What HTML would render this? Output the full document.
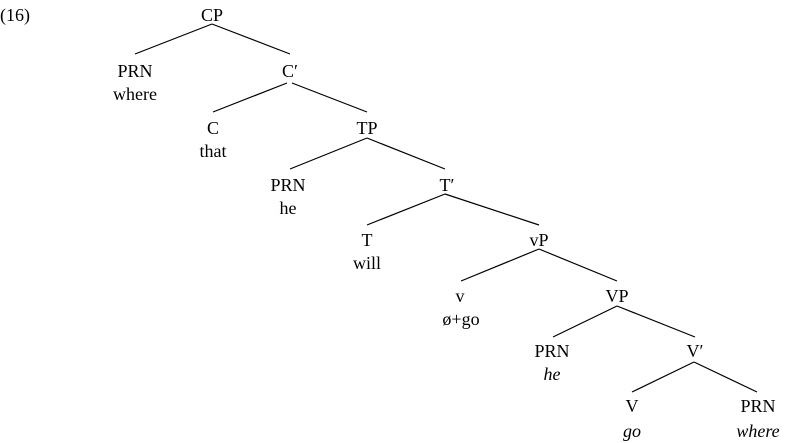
<!DOCTYPE html>
<html><head><style>
html,body{margin:0;padding:0;background:#fff;}
svg{display:block;}
text{font-family:"Liberation Serif",serif;font-size:18px;fill:#000;text-anchor:middle;}
line{stroke:#000;stroke-width:1.2;}
</style></head><body>
<svg width="785" height="443" viewBox="0 0 785 443">
<text x="0" y="21" style="text-anchor:start">(16)</text>

<text x="212" y="21">CP</text>
<line x1="212" y1="24" x2="135" y2="54"/><line x1="212" y1="24" x2="290" y2="54"/>
<text x="135" y="77">PRN</text><text x="135" y="100">where</text>
<text x="290" y="77">C′</text>
<line x1="287" y1="83" x2="213" y2="112"/><line x1="292" y1="83" x2="367" y2="112"/>
<text x="213" y="134">C</text><text x="213" y="157">that</text>
<text x="367" y="134">TP</text>
<line x1="367" y1="138" x2="290" y2="169"/><line x1="367" y1="138" x2="445" y2="169"/>
<text x="288" y="191">PRN</text><text x="288" y="214">he</text>
<text x="447" y="191">T′</text>
<line x1="445" y1="194" x2="367" y2="225"/><line x1="445" y1="194" x2="539" y2="225"/>
<text x="367" y="246">T</text><text x="367" y="269">will</text>
<text x="539" y="246">vP</text>
<line x1="539" y1="249" x2="461" y2="281"/><line x1="539" y1="249" x2="617" y2="281"/>
<text x="460" y="302">v</text><text x="461" y="325">ø+go</text>
<text x="617" y="302">VP</text>
<line x1="617" y1="306" x2="553" y2="337"/><line x1="617" y1="306" x2="695" y2="337"/>
<text x="552" y="357">PRN</text><text x="552" y="380" font-style="italic">he</text>
<text x="695" y="357">V′</text>
<line x1="694" y1="362" x2="632" y2="392"/><line x1="694" y1="362" x2="757" y2="392"/>
<text x="632" y="412">V</text><text x="632" y="437" font-style="italic">go</text>
<text x="758" y="412">PRN</text><text x="758" y="437" font-style="italic">where</text>
</svg>
</body></html>
